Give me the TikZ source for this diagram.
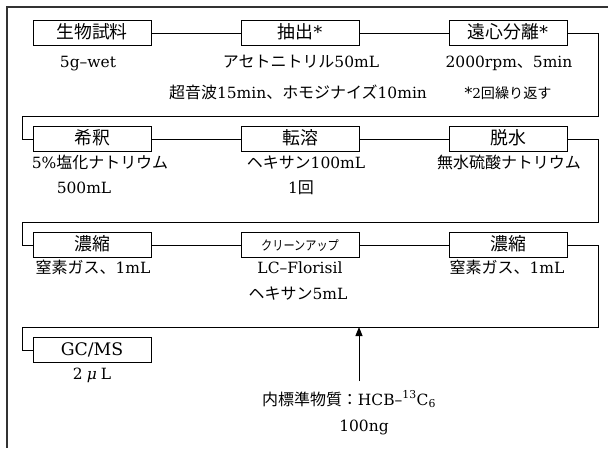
\documentclass[tikz,border=0pt]{standalone}
\usepackage{fontspec}
\usepackage{graphicx}
\setmainfont{DejaVu Serif}[Scale=0.91]
\newfontfamily\jp{Noto Sans CJK JP}[Scale=0.94]
\usetikzlibrary{arrows.meta}
\newcommand{\J}[1]{{\jp #1}}
\begin{document}
\begin{tikzpicture}[x=1pt,y=-1pt,
  font=\fontsize{17}{20}\selectfont,
  stepbox/.style={draw, line width=1pt, minimum width=118pt, minimum height=25pt, inner sep=0pt, text height=13pt, text depth=3pt, font=\fontsize{19}{22}\selectfont},
  lbl/.style={inner sep=0pt, text height=13pt, text depth=3pt},
  conn/.style={line width=1pt}]
\useasboundingbox (0,0) rectangle (608,448);
\fill[white] (0,0) rectangle (608,448);
% outer frame (right and bottom edges lie outside the picture)
\draw[line width=1.3pt, black!80] (608,7) -- (7,7) -- (7,448);

% row 1
\node[stepbox] (b11) at (92,33) {\J{生物試料}};
\node[stepbox] (b12) at (300,33) {\J{抽出}*};
\node[stepbox] (b13) at (508,33) {\J{遠心分離}*};
\node[lbl] (t11) at (88,62) {5g–wet};
\node[lbl] (t12a) at (301,62) {\J{アセトニトリル}50mL};
\node[lbl] (t12b) at (298,93) {\J{超音波}15min\J{、ホモジナイズ}10min};
\node[lbl] (t13a) at (509,62) {2000rpm\J{、}5min};
\node[lbl] (t13b) at (508,93) {*{\fontsize{15}{17}\selectfont 2\J{回繰り返す}}};

% row 2
\node[stepbox] (b21) at (92,139) {\J{希釈}};
\node[stepbox] (b22) at (300,139) {\J{転溶}};
\node[stepbox] (b23) at (508,139) {\J{脱水}};
\node[lbl] (t21a) at (100,163) {5\%\J{塩化ナトリウム}};
\node[lbl] (t21b) at (84,188) {500mL};
\node[lbl] (t22a) at (306,163) {\J{ヘキサン}100mL};
\node[lbl] (t22b) at (301,188) {1\J{回}};
\node[lbl] (t23a) at (509,163) {\J{無水硫酸ナトリウム}};

% row 3
\node[stepbox] (b31) at (92,245) {\J{濃縮}};
\node[stepbox] (b32) at (300,245) {\scalebox{0.85}[1]{\fontsize{14}{16}\selectfont\J{クリーンアップ}}};
\node[stepbox] (b33) at (508,245) {\J{濃縮}};
\node[lbl] (t31a) at (93,268) {\J{窒素ガス、}1mL};
\node[lbl] (t32a) at (300,268) {LC–Florisil};
\node[lbl] (t32b) at (298,294) {\J{ヘキサン}5mL};
\node[lbl] (t33a) at (507,268) {\J{窒素ガス、}1mL};

% row 4
\node[stepbox] (b41) at (92,350) {GC/MS};
\node[lbl] (t41a) at (92,374) {2\hspace{4pt}\textit{μ}\hspace{4pt}L};
\node[lbl] (is) at (349,400) {\J{内標準物質：}HCB–\textsuperscript{13}C\textsubscript{6}};
\node[lbl] (isb) at (364,426) {100ng};

% connectors within rows
\draw[conn] (b11) -- (b12);
\draw[conn] (b12) -- (b13);
\draw[conn] (b21) -- (b22);
\draw[conn] (b22) -- (b23);
\draw[conn] (b31) -- (b32);
\draw[conn] (b32) -- (b33);

% wrap connectors
\coordinate (w1r) at (598,116);
\coordinate (w1l) at (22,116);
\coordinate (w2r) at (598,222);
\coordinate (w2l) at (22,222);
\coordinate (w3r) at (598,327);
\coordinate (w3l) at (22,327);
\draw[conn] (b13.east) -- (b13.east -| w1r) -- (w1r) -- (w1l) -- (w1l |- b21.west) -- (b21.west);
\draw[conn] (b23.east) -- (b23.east -| w2r) -- (w2r) -- (w2l) -- (w2l |- b31.west) -- (b31.west);
\draw[conn] (b33.east) -- (b33.east -| w3r) -- (w3r) -- (w3l) -- (w3l |- b41.west) -- (b41.west);

% internal standard arrow
\coordinate (ab) at (359,381);
\coordinate (at) at (359,327);
\draw[conn, -{Triangle[length=9pt, width=7pt]}] (ab) -- (at);
\end{tikzpicture}
\end{document}
